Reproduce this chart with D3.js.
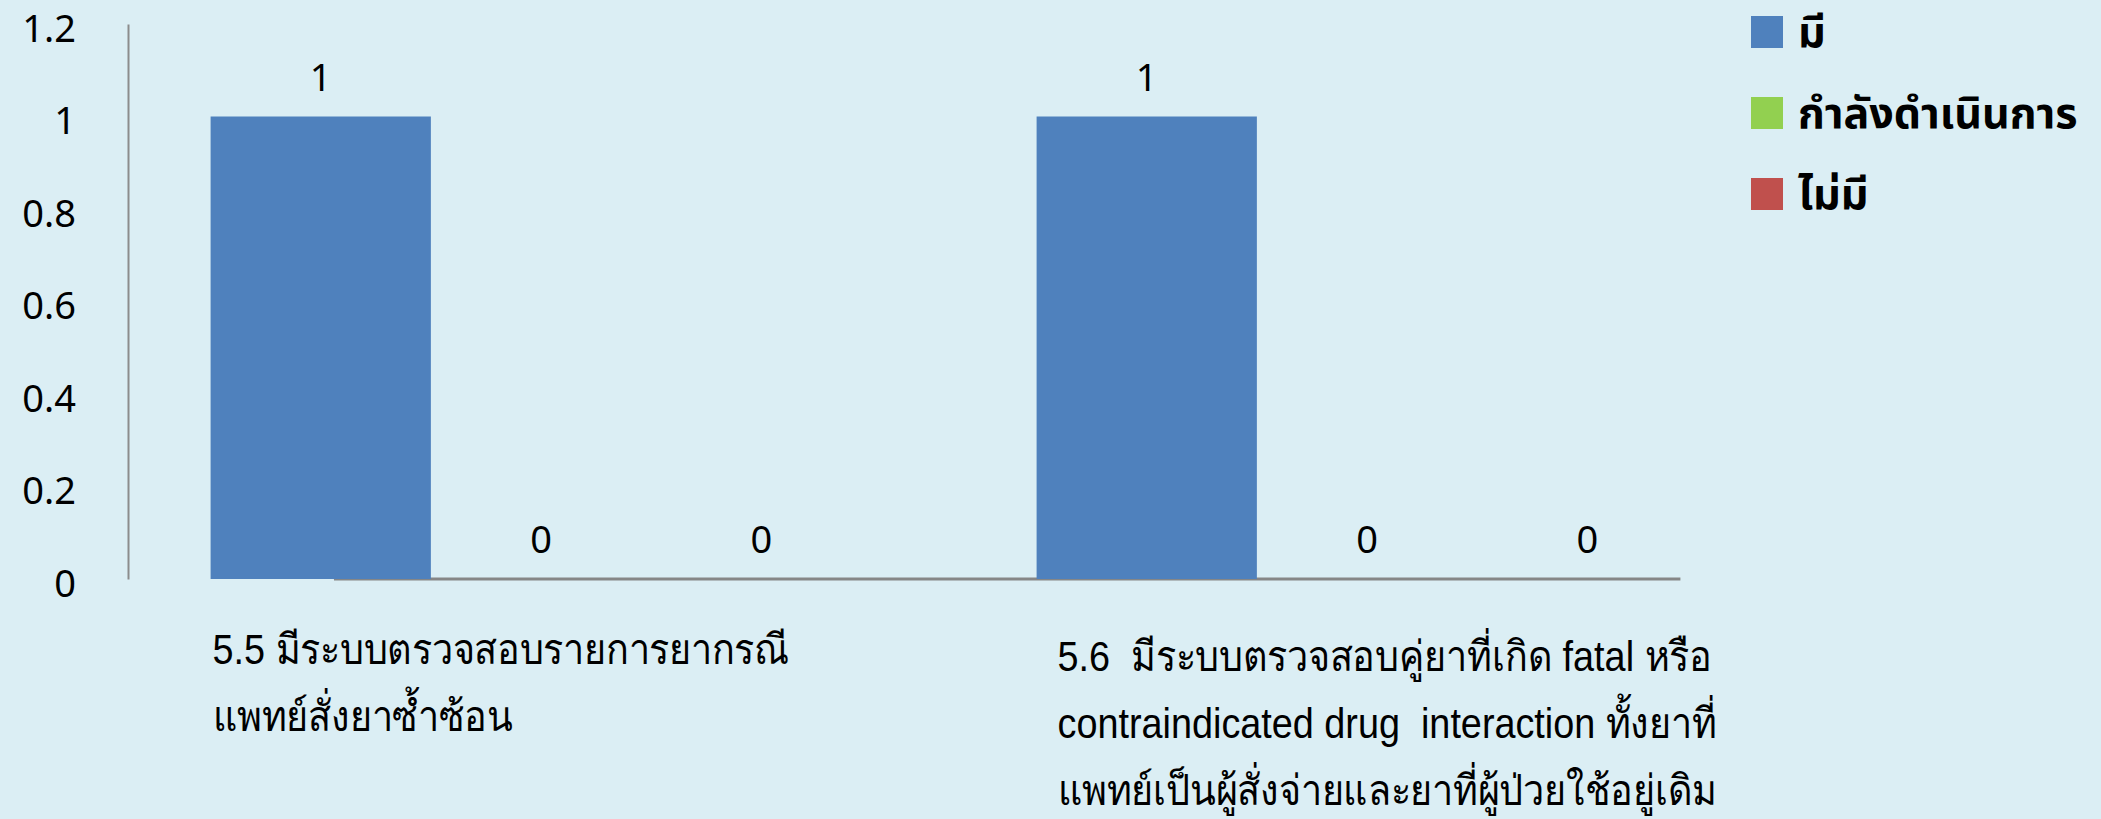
<!DOCTYPE html>
<html>
<head>
<meta charset="utf-8">
<script src="https://cdn.jsdelivr.net/npm/d3@7"></script>
<style>
  html, body { margin: 0; padding: 0; background: #DBEEF4; }
  svg { display: block; }
</style>
</head>
<body>
<svg id="chart" width="2101" height="819"></svg>
<script>
// Categories (each label is split into its display lines)
const categories = ["5.5", "5.6"];
const categoryLines = [
  ["5.5 มีระบบตรวจสอบรายการยากรณี", "แพทย์สั่งยาซ้ำซ้อน"],
  ["5.6  มีระบบตรวจสอบคู่ยาที่เกิด fatal หรือ", "contraindicated drug  interaction ทั้งยาที่", "แพทย์เป็นผู้สั่งจ่ายและยาที่ผู้ป่วยใช้อยู่เดิม"]
];
// Series
const seriesNames = ["มี", "กำลังดำเนินการ", "ไม่มี"];
const seriesColors = ["#4F81BD", "#92D050", "#C0504D"];
const valuesHave = [1, 1];
const valuesInProgress = [0, 0];
const valuesNone = [0, 0];
// Value axis ticks
const yTicks = [0, 0.2, 0.4, 0.6, 0.8, 1, 1.2];

const seriesValues = [valuesHave, valuesInProgress, valuesNone];

const svg = d3.select("#chart");
const plot = { left: 128, right: 1780, top: 24, bottom: 579 };

const x0 = d3.scaleBand()
  .domain(categories)
  .range([plot.left, plot.right])
  .paddingInner(0.2)
  .paddingOuter(0.1);

const x1 = d3.scaleBand()
  .domain(seriesNames)
  .range([0, x0.bandwidth()])
  .padding(0);

const y = d3.scaleLinear()
  .domain([0, 1.2])
  .range([plot.bottom, plot.top]);

const numFont = "'Noto Sans', 'Open Sans', sans-serif";
const labelFont = "'Liberation Sans', Arial, sans-serif";

// Y axis: no tick marks, labels only
const yAxis = d3.axisLeft(y)
  .tickValues(yTicks)
  .tickSize(0)
  .tickPadding(52)
  .tickFormat(d => String(+d.toFixed(1)));

const yg = svg.append("g")
  .attr("transform", `translate(${plot.left},0)`)
  .call(yAxis);
yg.select(".domain").attr("stroke", "#8C8C8C").attr("stroke-width", 2);
yg.selectAll(".tick text")
  .attr("fill", "#000")
  .attr("dy", "0.46em")
  .style("font-family", numFont)
  .style("font-size", "38px");

// Category axis line
const axisStart = x0(categories[0]) + x1.bandwidth() * 0.56;
const axisEnd = x0(categories[1]) + x0.bandwidth() - 17;
svg.append("line")
  .attr("x1", axisStart).attr("x2", axisEnd)
  .attr("y1", y(0)).attr("y2", y(0))
  .attr("stroke", "#868686")
  .attr("stroke-width", 3);

// Bars and value labels
const rows = [];
categories.forEach((c, ci) => {
  seriesNames.forEach((s, si) => {
    rows.push({ cat: c, series: s, si, value: seriesValues[si][ci] });
  });
});

const groups = svg.append("g").selectAll("g")
  .data(rows)
  .join("g");

groups.append("rect")
  .attr("x", d => x0(d.cat) + x1(d.series))
  .attr("width", x1.bandwidth())
  .attr("y", d => y(d.value))
  .attr("height", d => y(0) - y(d.value))
  .attr("fill", d => seriesColors[d.si]);

groups.append("text")
  .attr("x", d => x0(d.cat) + x1(d.series) + x1.bandwidth() / 2)
  .attr("y", d => y(d.value) - 26)
  .attr("text-anchor", "middle")
  .style("font-family", numFont)
  .style("font-size", "38px")
  .attr("fill", "#000")
  .text(d => d.value);

// Category labels: condensed text, left-aligned under each group
const labelShift = [{ dx: 2, dy: 0 }, { dx: 21, dy: 7 }];
const catLabels = svg.append("g").selectAll("g")
  .data(categories)
  .join("g")
  .attr("transform", (d, i) =>
    `translate(${x0(d) + labelShift[i].dx}, ${664 + labelShift[i].dy}) scale(0.9, 1)`);

catLabels.append("text")
  .attr("xml:space", "preserve")
  .style("white-space", "pre")
  .style("font-family", labelFont)
  .style("font-size", "42px")
  .attr("fill", "#000")
  .selectAll("tspan")
  .data((d, i) => categoryLines[i])
  .join("tspan")
  .attr("x", 0)
  .attr("dy", (d, i) => i === 0 ? 0 : 67)
  .text(d => d);

// Legend
const legend = svg.append("g").selectAll("g")
  .data(seriesNames)
  .join("g")
  .attr("transform", (d, i) => `translate(1751, ${16 + i * 81})`);

legend.append("rect")
  .attr("width", 32).attr("height", 32)
  .attr("fill", (d, i) => seriesColors[i]);

legend.append("text")
  .attr("x", 47)
  .attr("y", 31)
  .style("font-family", "'Noto Sans', 'Noto Sans Thai', sans-serif")
  .style("font-weight", "bold")
  .style("font-size", "43px")
  .attr("fill", "#000")
  .text(d => d);
</script>
</body>
</html>
